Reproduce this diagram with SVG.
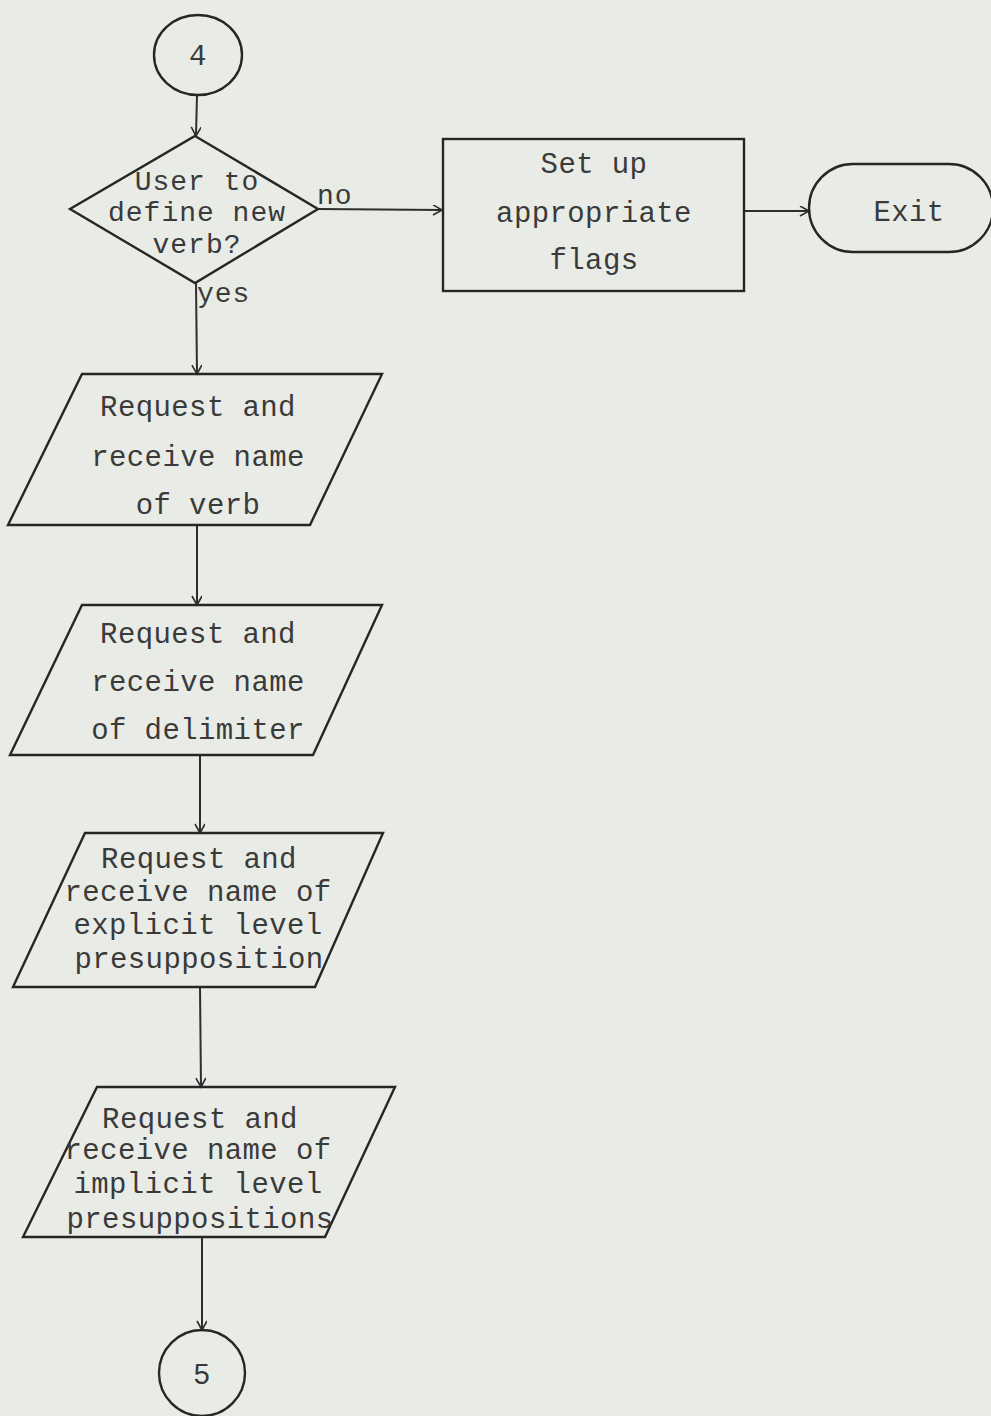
<svg xmlns="http://www.w3.org/2000/svg" width="991" height="1416" viewBox="0 0 991 1416">
<defs>
<marker id="arr" markerWidth="12" markerHeight="12" refX="10" refY="5" orient="auto" markerUnits="userSpaceOnUse">
<path d="M1,0 L10,5 L1,10" fill="none" stroke="#2e2e2e" stroke-width="1.6"/>
</marker>
<style>
.shape{fill:none;stroke:#262626;stroke-width:2.4}
.conn{fill:none;stroke:#2e2e2e;stroke-width:2;marker-end:url(#arr)}
text{font-family:"Liberation Mono","DejaVu Sans Mono",monospace;font-size:29px;fill:#3a3a3a;text-anchor:middle;letter-spacing:0.4px}
.lbl{text-anchor:start}
.dia{font-size:28px;letter-spacing:1px}
</style>
</defs>
<rect width="991" height="1416" fill="#e9ece6"/>
<g id="connectors">
<line class="conn" x1="197" y1="95" x2="196" y2="136"/>
<line class="conn" x1="318" y1="209" x2="442" y2="210"/>
<line class="conn" x1="744" y1="211" x2="809" y2="211"/>
<line class="conn" x1="196" y1="283" x2="197" y2="374"/>
<line class="conn" x1="197" y1="525" x2="197" y2="605"/>
<line class="conn" x1="200" y1="755" x2="200" y2="833"/>
<line class="conn" x1="200" y1="987" x2="201" y2="1087"/>
<line class="conn" x1="202" y1="1237" x2="202" y2="1330"/>
<text class="lbl dia" x="317" y="204">no</text>
<text class="lbl dia" x="197" y="302">yes</text>
</g>
<g id="start4">
<ellipse class="shape" cx="198" cy="55" rx="44" ry="40"/>
<text x="198" y="65">4</text>
</g>
<g id="decision">
<polygon class="shape" points="195,136 318,209 195,283 70,209"/>
<text class="dia" x="197" y="190">User to</text>
<text class="dia" x="197" y="221">define new</text>
<text class="dia" x="197" y="253">verb?</text>
</g>
<g id="setflags">
<rect class="shape" x="443" y="139" width="301" height="152"/>
<text x="594" y="173">Set up</text>
<text x="594" y="222">appropriate</text>
<text x="594" y="269">flags</text>
</g>
<g id="exit">
<rect class="shape" x="809" y="164" width="184" height="88" rx="44" ry="44"/>
<text x="909" y="221">Exit</text>
</g>
<g id="verb">
<polygon class="shape" points="82,374 382,374 310,525 8,525"/>
<text x="198" y="416">Request and</text>
<text x="198" y="466">receive name</text>
<text x="198" y="514">of verb</text>
</g>
<g id="delimiter">
<polygon class="shape" points="82,605 382,605 313,755 10,755"/>
<text x="198" y="643">Request and</text>
<text x="198" y="691">receive name</text>
<text x="198" y="739">of delimiter</text>
</g>
<g id="explicit">
<polygon class="shape" points="85,833 383,833 315,987 13,987"/>
<text x="199" y="868">Request and</text>
<text x="198" y="901">receive name of</text>
<text x="198" y="934">explicit level</text>
<text x="199" y="968">presupposition</text>
</g>
<g id="implicit">
<polygon class="shape" points="97,1087 395,1087 325,1237 23,1237"/>
<text x="200" y="1128">Request and</text>
<text x="198" y="1159">receive name of</text>
<text x="198" y="1193">implicit level</text>
<text x="200" y="1228">presuppositions</text>
</g>
<g id="end5">
<circle class="shape" cx="202" cy="1373" r="43"/>
<text x="202" y="1384">5</text>
</g>
</svg>
